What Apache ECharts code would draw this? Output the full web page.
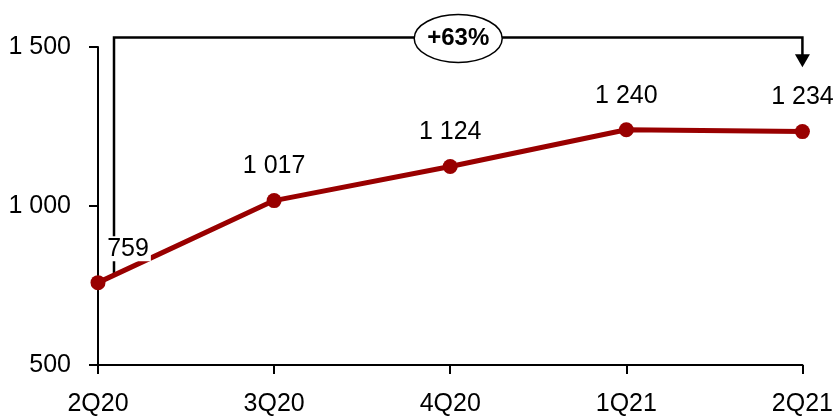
<!DOCTYPE html>
<html>
<head>
<meta charset="utf-8">
<script src="https://cdn.jsdelivr.net/npm/echarts@6/dist/echarts.min.js"></script>
<style>
html,body{margin:0;padding:0;background:#fff;}
#chart{width:836px;height:417px;}
</style>
</head>
<body>
<div id="chart"></div>
<script>
var categories = ['2Q20', '3Q20', '4Q20', '1Q21', '2Q21'];
var values = [759, 1017, 1124, 1240, 1234];
var yTicks = [500, 1000, 1500];
var growthLabel = '+63%';

var FONT = "'Liberation Sans', Arial, sans-serif";
var FS = 25;
function fmt(v) { return String(v).replace(/\B(?=(\d{3})+(?!\d))/g, ' '); }

var chart = echarts.init(document.getElementById('chart'));
var dataItems = values.map(function (v, i) {
  var item = { value: v };
  if (i === 0) {
    item.label = { offset: [30, 0], backgroundColor: '#fff', padding: [0, 2, 0, 2] };
  }
  return item;
});

chart.setOption({
  animation: false,
  grid: { left: 98, right: 30, top: 47, bottom: 49.5 },
  xAxis: {
    type: 'category',
    data: categories,
    boundaryGap: false,
    axisLine: { lineStyle: { color: '#000', width: 2 } },
    axisTick: { show: true, length: 9, alignWithLabel: true, lineStyle: { color: '#000', width: 2 } },
    axisLabel: { color: '#000', fontFamily: FONT, fontSize: FS, margin: 27 }
  },
  yAxis: {
    type: 'value',
    min: yTicks[0],
    max: yTicks[yTicks.length - 1],
    interval: 500,
    splitLine: { show: false },
    axisLine: { show: true, lineStyle: { color: '#000', width: 2 } },
    axisTick: { show: true, length: 9, lineStyle: { color: '#000', width: 2 } },
    axisLabel: { color: '#000', fontFamily: FONT, fontSize: FS, margin: 27, formatter: fmt }
  },
  series: [{
    type: 'line',
    data: dataItems,
    z: 3,
    symbol: 'circle',
    symbolSize: 15,
    itemStyle: { color: '#990000' },
    lineStyle: { color: '#990000', width: 5 },
    label: {
      show: true,
      position: 'top',
      distance: 14,
      color: '#000',
      fontFamily: FONT,
      fontSize: FS,
      formatter: function (p) { return fmt(p.value); }
    }
  }]
});

function px(cat, val) { return chart.convertToPixel({ gridIndex: 0 }, [cat, val]); }
var start = px(categories[0], values[0]);
var end = px(categories[categories.length - 1], values[values.length - 1]);
var topY = px(categories[0], 1530)[1];
var leftX = start[0] + 16;
var bottomY = px(categories[0], 783)[1];
var rightX = end[0];
var arrowTip = px(categories[0], 1436)[1];
var cx = (leftX + rightX) / 2;

chart.setOption({
  graphic: [
    { type: 'polyline', z: 1, shape: { points: [[leftX, bottomY], [leftX, topY], [rightX, topY], [rightX, arrowTip - 12]] },
      style: { stroke: '#000', lineWidth: 2.5, fill: null } },
    { type: 'polygon', z: 1, shape: { points: [[rightX - 7.5, arrowTip - 13], [rightX + 7.5, arrowTip - 13], [rightX, arrowTip]] },
      style: { fill: '#000' } },
    { type: 'ellipse', z: 5, shape: { cx: cx, cy: topY + 1, rx: 44, ry: 24 },
      style: { fill: '#fff', stroke: '#000', lineWidth: 1.5 } },
    { type: 'text', z: 6, x: cx, y: topY + 1,
      style: { text: growthLabel, fill: '#000', font: 'bold 24px ' + FONT, align: 'center', verticalAlign: 'middle' } }
  ]
});
</script>
</body>
</html>
